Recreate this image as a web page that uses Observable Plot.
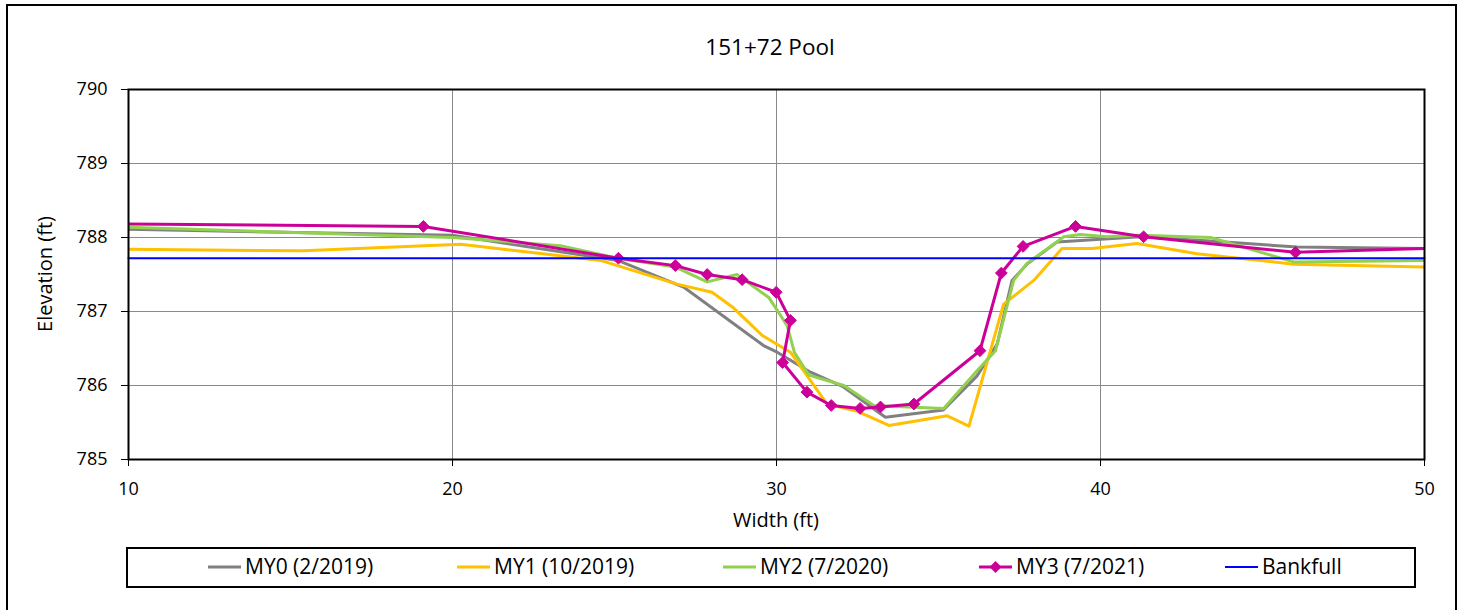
<!DOCTYPE html>
<html>
<head>
<meta charset="utf-8">
<script src="https://cdn.jsdelivr.net/npm/d3@7"></script>
<script src="https://cdn.jsdelivr.net/npm/@observablehq/plot@0.6"></script>
<style>
  body { margin: 0; background: #fff; }
  #wrap { position: relative; width: 1466px; height: 610px; overflow: hidden; font-family: "Open Sans", sans-serif; }
  #border { position: absolute; left: 6px; top: 4px; width: 1451px; height: 620px; border: 2px solid #000; box-sizing: border-box; }
  #wrap svg { position: absolute; left: 0; top: 0; }
</style>
</head>
<body>
<div id="wrap"><div id="border"></div></div>
<script>
// ---- Data ----
const title = "151+72 Pool";
const xLabel = "Width (ft)";
const yLabel = "Elevation (ft)";
const xTicks = [10, 20, 30, 40, 50];
const yTicks = [785, 786, 787, 788, 789, 790];

const my0X = [10, 20, 25.1, 27.13, 29.6, 30.02, 31.05, 32.07, 33.36, 35.15, 36.19, 36.81, 37.27, 37.73, 38.66, 41.23, 43.5, 46.07, 50];
const my0Y = [788.11, 788.03, 787.69, 787.33, 786.54, 786.45, 786.18, 785.98, 785.57, 785.67, 786.13, 786.56, 787.42, 787.64, 787.94, 788.01, 787.95, 787.87, 787.85];

const my1X = [10, 15.41, 20.25, 24.57, 26.93, 28.01, 28.67, 29.55, 30.43, 31.3, 31.56, 32.5, 33.47, 35.27, 35.94, 37.01, 37.94, 38.81, 39.74, 41.13, 42.98, 45.96, 50];
const my1Y = [787.84, 787.82, 787.91, 787.69, 787.37, 787.26, 787.05, 786.68, 786.45, 785.91, 785.75, 785.65, 785.46, 785.59, 785.45, 787.10, 787.42, 787.85, 787.85, 787.92, 787.78, 787.64, 787.60];

const my2X = [10, 20, 23.33, 25.1, 26.88, 27.86, 28.78, 29.76, 30.33, 30.55, 31.0, 32.08, 33.0, 35.16, 36.19, 36.76, 37.32, 37.73, 38.87, 39.38, 40.2, 41.23, 43.4, 45.96, 50];
const my2Y = [788.14, 788.0, 787.89, 787.72, 787.60, 787.40, 787.50, 787.19, 786.81, 786.45, 786.14, 786.0, 785.73, 785.69, 786.2, 786.47, 787.42, 787.65, 788.01, 788.04, 788.01, 788.03, 788.0, 787.67, 787.69];

const my3X = [8, 19.1, 25.12, 26.88, 27.86, 28.94, 29.99, 30.43, 30.19, 30.94, 31.69, 32.58, 33.21, 34.24, 36.28, 36.94, 37.61, 39.23, 41.33, 46.02, 52];
const my3Y = [788.19, 788.15, 787.72, 787.62, 787.50, 787.43, 787.26, 786.88, 786.31, 785.91, 785.73, 785.69, 785.71, 785.75, 786.47, 787.52, 787.88, 788.15, 788.01, 787.80, 787.875];

const bankX = [10, 50];
const bankY = [787.72, 787.72];

const seriesNames = ["MY0 (2/2019)", "MY1 (10/2019)", "MY2 (7/2020)", "MY3 (7/2021)", "Bankfull"];
const seriesColors = ["#808080", "#FFC000", "#92D050", "#CC0099", "#0000FF"];

// ---- Build tables ----
const zip = (xs, ys) => xs.map((x, i) => ({x, y: ys[i]}));
const my0 = zip(my0X, my0Y), my1 = zip(my1X, my1Y), my2 = zip(my2X, my2Y), my3 = zip(my3X, my3Y), bank = zip(bankX, bankY);

const W = 1466, H = 610;
const plot = Plot.plot({
  width: W, height: H,
  marginLeft: 128, marginRight: 42, marginTop: 89, marginBottom: 151,
  style: {fontFamily: "Open Sans", fontSize: "18px", color: "#000", background: "transparent"},
  x: {domain: [10, 50]},
  y: {domain: [785, 790]},
  marks: [
    Plot.gridX([20, 30, 40], {stroke: "#8a8a8a", strokeOpacity: 1, strokeWidth: 1}),
    Plot.gridY([786, 787, 788, 789], {stroke: "#8a8a8a", strokeOpacity: 1, strokeWidth: 1}),
    Plot.line(my0, {x: "x", y: "y", stroke: seriesColors[0], strokeWidth: 3, clip: true}),
    Plot.line(my1, {x: "x", y: "y", stroke: seriesColors[1], strokeWidth: 3, clip: true}),
    Plot.line(my2, {x: "x", y: "y", stroke: seriesColors[2], strokeWidth: 3, clip: true}),
    Plot.line(my3, {x: "x", y: "y", stroke: seriesColors[3], strokeWidth: 3, clip: true}),
    Plot.dot(my3, {x: "x", y: "y", symbol: "diamond2", r: 5.3, fill: seriesColors[3], stroke: seriesColors[3], strokeWidth: 1, clip: true}),
    Plot.line(bank, {x: "x", y: "y", stroke: seriesColors[4], strokeWidth: 2}),
    Plot.frame({stroke: "#000", strokeWidth: 2}),
    Plot.axisX({ticks: xTicks, tickFormat: d3.format("d"), tickSize: 7, tickPadding: 16, label: null, fontSize: 18}),
    Plot.axisY({ticks: yTicks, tickFormat: d3.format("d"), tickSize: 7, tickPadding: 14, label: null, fontSize: 18})
  ]
});
document.getElementById("wrap").appendChild(plot);

// ---- Overlay: title, axis labels, legend ----
const svg = d3.select("#wrap").append("svg")
  .attr("width", W).attr("height", H)
  .style("font-family", "Open Sans");

svg.append("text").attr("x", 770).attr("y", 55).attr("text-anchor", "middle")
  .attr("font-size", 22.5).attr("fill", "#000").text(title);

svg.append("text").attr("x", 776).attr("y", 520).attr("dy", "0.35em").attr("text-anchor", "middle")
  .attr("font-size", 20).attr("fill", "#000").text(xLabel);

svg.append("text").attr("transform", "translate(45,274) rotate(-90)").attr("dy", "0.35em").attr("text-anchor", "middle")
  .attr("font-size", 20).attr("fill", "#000").text(yLabel);

svg.append("rect").attr("x", 127).attr("y", 548).attr("width", 1288).attr("height", 39)
  .attr("fill", "#fff").attr("stroke", "#000").attr("stroke-width", 2);

const legendTextX = [245, 494, 760, 1016, 1262];
const ly = 567;
seriesNames.forEach((name, i) => {
  const tx = legendTextX[i];
  const g = svg.append("g");
  g.append("line").attr("x1", tx - 37).attr("x2", tx - 4).attr("y1", ly).attr("y2", ly)
    .attr("stroke", seriesColors[i]).attr("stroke-width", i === 4 ? 2 : 3);
  if (i === 3) {
    const cx = tx - 20.5, s = 6;
    g.append("path").attr("d", `M${cx},${ly - s}L${cx + s},${ly}L${cx},${ly + s}L${cx - s},${ly}Z`)
      .attr("fill", seriesColors[3]);
  }
  g.append("text").attr("x", tx).attr("y", ly).attr("dy", "0.35em")
    .attr("font-size", 21).attr("fill", "#000").text(name);
});
</script>
</body>
</html>
